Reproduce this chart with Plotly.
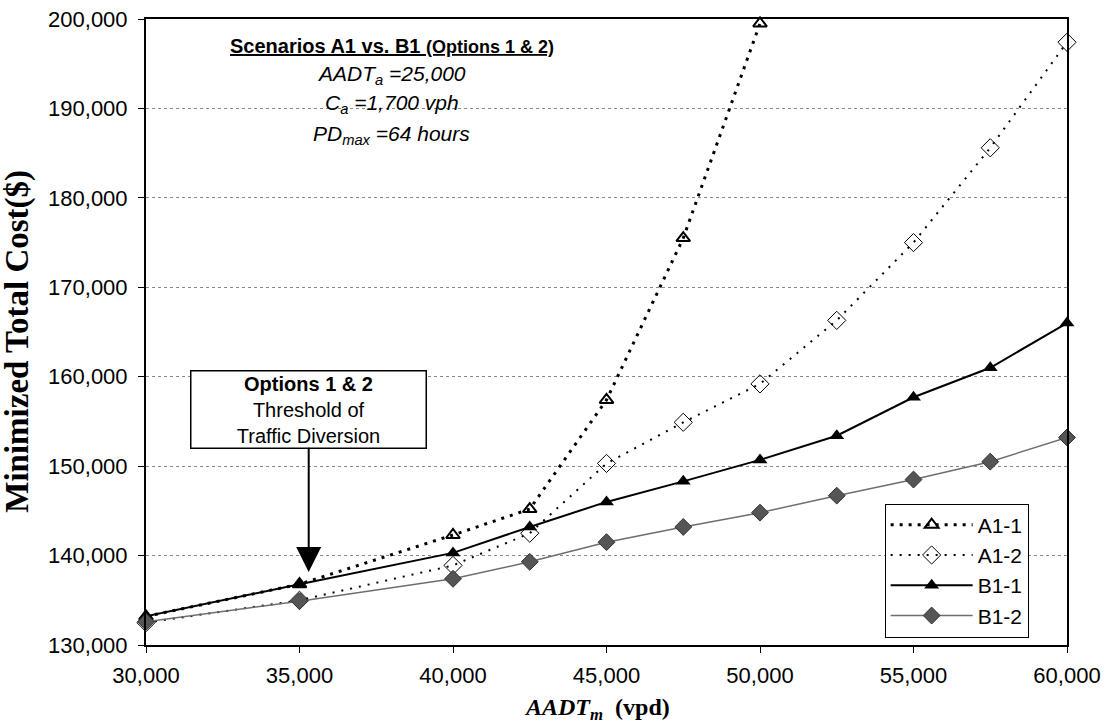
import plotly.graph_objects as go

# ---- data ----
aadt_m = [30000, 35000, 40000, 42500, 45000, 47500, 50000, 52500, 55000, 57500, 60000]
a1_1_x = [30000, 35000, 40000, 42500, 45000, 47500, 50000]
a1_1 = [133200, 136800, 142300, 145200, 157400, 175500, 199500]
a1_2 = [132500, 135000, 138900, 142500, 150300, 154900, 159200, 166300, 175000, 185600, 197400]
b1_1 = [133200, 136800, 140300, 143200, 146000, 148300, 150700, 153400, 157700, 161000, 166000]
b1_2 = [132600, 134900, 137400, 139300, 141500, 143200, 144800, 146700, 148500, 150500, 153200]
x_ticks = [30000, 35000, 40000, 45000, 50000, 55000, 60000]
y_ticks = [130000, 140000, 150000, 160000, 170000, 180000, 190000, 200000]

SANS = "Liberation Sans, Arial, sans-serif"
SERIF = "Liberation Serif, Times New Roman, serif"

fig = go.Figure()
fig.add_trace(go.Scatter(
    x=a1_1_x, y=a1_1, name="A1-1", mode="lines+markers",
    line=dict(color="black", width=3, dash="3px,6px"),
    marker=dict(symbol="triangle-up-open", size=12, color="black", line=dict(width=2)),
    cliponaxis=False))
fig.add_trace(go.Scatter(
    x=aadt_m, y=a1_2, name="A1-2", mode="lines+markers",
    line=dict(color="black", width=2, dash="2px,7px"),
    marker=dict(symbol="diamond-open", size=14, color="black", line=dict(width=1)),
    cliponaxis=False))
fig.add_trace(go.Scatter(
    x=aadt_m, y=b1_1, name="B1-1", mode="lines+markers",
    line=dict(color="black", width=2),
    marker=dict(symbol="triangle-up", size=13, color="black"),
    cliponaxis=False))
fig.add_trace(go.Scatter(
    x=aadt_m, y=b1_2, name="B1-2", mode="lines+markers",
    line=dict(color="#6e6e6e", width=1.5),
    marker=dict(symbol="diamond", size=13, color="#555555", line=dict(color="#333333", width=1)),
    cliponaxis=False))

annotations = [
    dict(text="<span style='text-decoration:underline'><b>Scenarios A1 vs. B1 <span style='font-size:18px'>(Options 1 &amp; 2)</span></b></span>",
         xref="x", yref="paper", x=38000, y=0.957, xanchor="center", yanchor="middle",
         showarrow=False, font=dict(family=SANS, size=20, color="black")),
    dict(text="<i>AADT<sub>a</sub> =25,000</i>", xref="x", yref="paper", x=38000, y=0.911,
         xanchor="center", yanchor="middle",
         showarrow=False, font=dict(family=SANS, size=21, color="black")),
    dict(text="<i>C<sub>a</sub> =1,700 vph</i>", xref="x", yref="paper", x=38000, y=0.864,
         xanchor="center", yanchor="middle",
         showarrow=False, font=dict(family=SANS, size=21, color="black")),
    dict(text="<i>PD<sub>max</sub> =64 hours</i>", xref="x", yref="paper", x=38000, y=0.815,
         xanchor="center", yanchor="middle",
         showarrow=False, font=dict(family=SANS, size=21, color="black")),
    dict(text="<b>Options 1 &amp; 2</b><br>Threshold of<br>Traffic Diversion",
         xref="x", yref="y", x=35300, y=138150, ax=0, ay=-163,
         showarrow=True, arrowhead=2, arrowsize=2.5, arrowwidth=2, arrowcolor="black",
         bordercolor="black", borderwidth=1.5, borderpad=1, bgcolor="white", width=232,
         font=dict(family=SANS, size=20, color="black")),
    dict(text="<b>Minimized Total Cost($)</b>", xref="paper", yref="paper",
         x=-0.139, y=0.486, xanchor="center", yanchor="middle", textangle=-90, showarrow=False,
         font=dict(family=SERIF, size=33, color="black")),
    dict(text="<b><i>AADT<sub>m</sub></i>  (vpd)</b>", xref="paper", yref="paper",
         x=0.49, y=-0.102, xanchor="center", yanchor="middle", showarrow=False,
         font=dict(family=SERIF, size=24, color="black")),
]

fig.update_layout(
    width=1111, height=727,
    margin=dict(l=146, r=44, t=19, b=82, autoexpand=False),
    paper_bgcolor="white", plot_bgcolor="white",
    showlegend=True,
    legend=dict(x=0.802, y=0.226, xanchor="left", yanchor="top",
                bordercolor="black", borderwidth=1, bgcolor="white",
                font=dict(family=SANS, size=21, color="black"),
                itemwidth=82, tracegroupgap=0),
    annotations=annotations,
    font=dict(family=SANS, color="black"),
)
fig.update_xaxes(range=[30000, 60000], tickvals=x_ticks, tickformat=",",
                 showgrid=False, zeroline=False,
                 showline=True, linecolor="black", linewidth=2, mirror=True,
                 ticks="outside", ticklen=6, tickcolor="black", tickwidth=1,
                 ticklabelstandoff=4, ticklabeloverflow="allow",
                 tickfont=dict(family=SANS, size=22, color="black"))
fig.update_yaxes(range=[130000, 200000], tickvals=y_ticks, tickformat=",",
                 showgrid=True, gridcolor="#888888", gridwidth=1, griddash="dot",
                 zeroline=False,
                 showline=True, linecolor="black", linewidth=2, mirror=True,
                 ticks="outside", ticklen=6, tickcolor="black", tickwidth=1,
                 ticklabelstandoff=6, ticklabeloverflow="allow",
                 tickfont=dict(family=SANS, size=22, color="black"))

fig.write_html("out.html", config={"displayModeBar": False},
               post_script="document.body.style.margin='0';")
